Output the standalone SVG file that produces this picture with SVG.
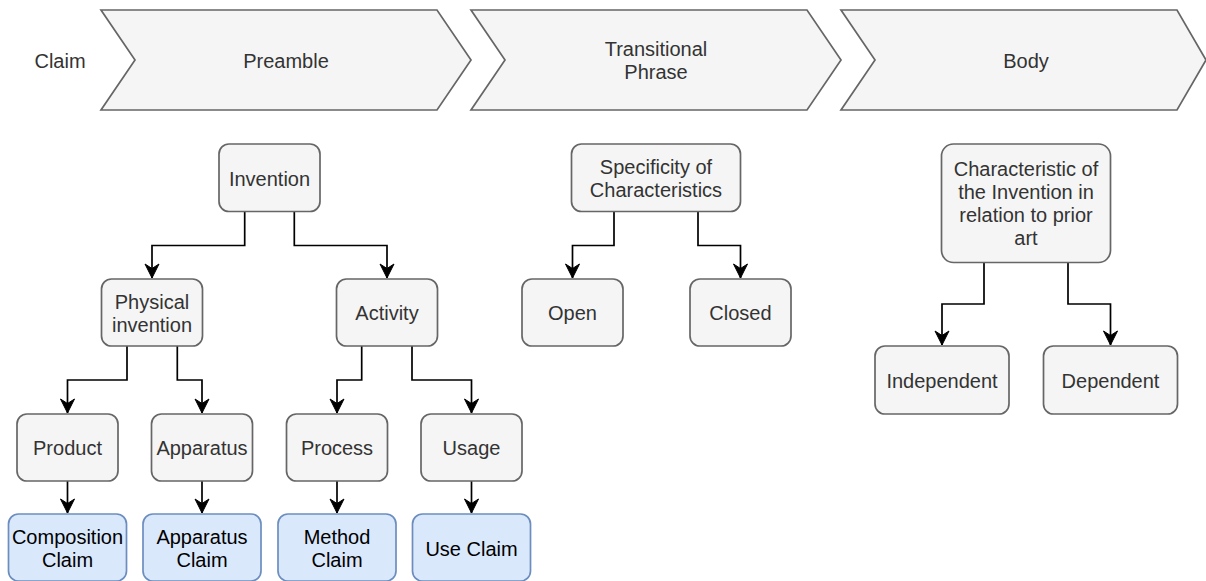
<svg xmlns="http://www.w3.org/2000/svg" width="1206" height="581" viewBox="0 0 1206 581">
  <style>
    text { font-family: "Liberation Sans", Arial, Helvetica, sans-serif; font-size: 20px; text-anchor: middle; fill: #333333; }
    .stage { fill: #f5f5f5; stroke: #666666; stroke-width: 1.7; stroke-linejoin: miter; }
    .box { fill: #f5f5f5; stroke: #666666; stroke-width: 1.7; }
    .claim { fill: #dae8fc; stroke: #6c8ebf; stroke-width: 1.7; }
    .claim-text { fill: #000000; }
    .edge { fill: none; stroke: #000000; stroke-width: 1.7; marker-end: url(#arrow); }
  </style>
  <defs>
    <marker id="arrow" markerUnits="userSpaceOnUse" viewBox="-15 -8 16 16" markerWidth="16" markerHeight="16" refX="0" refY="0" orient="auto">
      <path d="M0,0 L-14,-7 L-9.5,0 L-14,7 Z" fill="#000000" stroke="#000000" stroke-width="1"/>
    </marker>
  </defs>

  <rect width="1206" height="581" fill="#ffffff"/>

  <!-- claim structure header -->
  <g id="label-claim">
    <text x="60" y="68">Claim</text>
  </g>
  <g id="stage-preamble">
    <polygon class="stage" points="101,10 437,10 471,60 437,110 101,110 135,60"/>
    <text x="286" y="68">Preamble</text>
  </g>
  <g id="stage-transitional">
    <polygon class="stage" points="471,10 807,10 841,60 807,110 471,110 505,60"/>
    <text x="656" y="56">Transitional</text>
    <text x="656" y="79">Phrase</text>
  </g>
  <g id="stage-body">
    <polygon class="stage" points="841,10 1177,10 1206,60 1177,110 841,110 875,60"/>
    <text x="1026" y="68">Body</text>
  </g>

  <!-- connectors -->
  <g id="connectors">
    <path class="edge" d="M244.7,211.5 V245.5 H152 V278"/>
    <path class="edge" d="M294.3,211.5 V245.5 H387 V278"/>
    <path class="edge" d="M127,346 V380 H67.5 V413"/>
    <path class="edge" d="M177.3,346 V380 H202 V413"/>
    <path class="edge" d="M361.7,346 V380 H337 V413"/>
    <path class="edge" d="M412,346 V380 H471.5 V413"/>
    <path class="edge" d="M67.5,481 V513"/>
    <path class="edge" d="M202,481 V513"/>
    <path class="edge" d="M337,481 V513"/>
    <path class="edge" d="M471.5,481 V513"/>
    <path class="edge" d="M614,211.5 V245.5 H572.5 V278"/>
    <path class="edge" d="M698,211.5 V245.5 H740.5 V278"/>
    <path class="edge" d="M984,262.5 V304 H942 V345"/>
    <path class="edge" d="M1068,262.5 V304 H1110.5 V345"/>
  </g>

  <!-- preamble tree -->
  <g id="node-invention">
    <rect class="box" x="219" y="144" width="101" height="67.5" rx="10"/>
    <text x="269.5" y="185.5">Invention</text>
  </g>
  <g id="node-physical-invention">
    <rect class="box" x="101.5" y="279" width="101" height="67" rx="10"/>
    <text x="152" y="308.5">Physical</text>
    <text x="152" y="331.5">invention</text>
  </g>
  <g id="node-activity">
    <rect class="box" x="336.5" y="279" width="101" height="67" rx="10"/>
    <text x="387" y="320">Activity</text>
  </g>
  <g id="node-product">
    <rect class="box" x="17" y="414" width="101" height="67" rx="10"/>
    <text x="67.5" y="455">Product</text>
  </g>
  <g id="node-apparatus">
    <rect class="box" x="151.5" y="414" width="101" height="67" rx="10"/>
    <text x="202" y="455">Apparatus</text>
  </g>
  <g id="node-process">
    <rect class="box" x="286.5" y="414" width="101" height="67" rx="10"/>
    <text x="337" y="455">Process</text>
  </g>
  <g id="node-usage">
    <rect class="box" x="421" y="414" width="101" height="67" rx="10"/>
    <text x="471.5" y="455">Usage</text>
  </g>
  <g id="node-composition-claim">
    <rect class="claim" x="8.5" y="514" width="118" height="67" rx="10"/>
    <text class="claim-text" x="67.5" y="544">Composition</text>
    <text class="claim-text" x="67.5" y="567">Claim</text>
  </g>
  <g id="node-apparatus-claim">
    <rect class="claim" x="143" y="514" width="118" height="67" rx="10"/>
    <text class="claim-text" x="202" y="544">Apparatus</text>
    <text class="claim-text" x="202" y="567">Claim</text>
  </g>
  <g id="node-method-claim">
    <rect class="claim" x="278" y="514" width="118" height="67" rx="10"/>
    <text class="claim-text" x="337" y="544">Method</text>
    <text class="claim-text" x="337" y="567">Claim</text>
  </g>
  <g id="node-use-claim">
    <rect class="claim" x="412.5" y="514" width="118" height="67" rx="10"/>
    <text class="claim-text" x="471.5" y="555.5">Use Claim</text>
  </g>

  <!-- transitional phrase tree -->
  <g id="node-specificity">
    <rect class="box" x="571.5" y="144" width="169" height="67.5" rx="10"/>
    <text x="656" y="174">Specificity of</text>
    <text x="656" y="197">Characteristics</text>
  </g>
  <g id="node-open">
    <rect class="box" x="522" y="279" width="101" height="67" rx="10"/>
    <text x="572.5" y="320">Open</text>
  </g>
  <g id="node-closed">
    <rect class="box" x="690" y="279" width="101" height="67" rx="10"/>
    <text x="740.5" y="320">Closed</text>
  </g>

  <!-- body tree -->
  <g id="node-characteristic">
    <rect class="box" x="941.5" y="144" width="169" height="118.5" rx="12"/>
    <text x="1026" y="176">Characteristic of</text>
    <text x="1026" y="199">the Invention in</text>
    <text x="1026" y="222">relation to prior</text>
    <text x="1026" y="245">art</text>
  </g>
  <g id="node-independent">
    <rect class="box" x="875" y="346" width="134" height="68" rx="10"/>
    <text x="942" y="387.5">Independent</text>
  </g>
  <g id="node-dependent">
    <rect class="box" x="1043.5" y="346" width="134" height="68" rx="10"/>
    <text x="1110.5" y="387.5">Dependent</text>
  </g>
</svg>
